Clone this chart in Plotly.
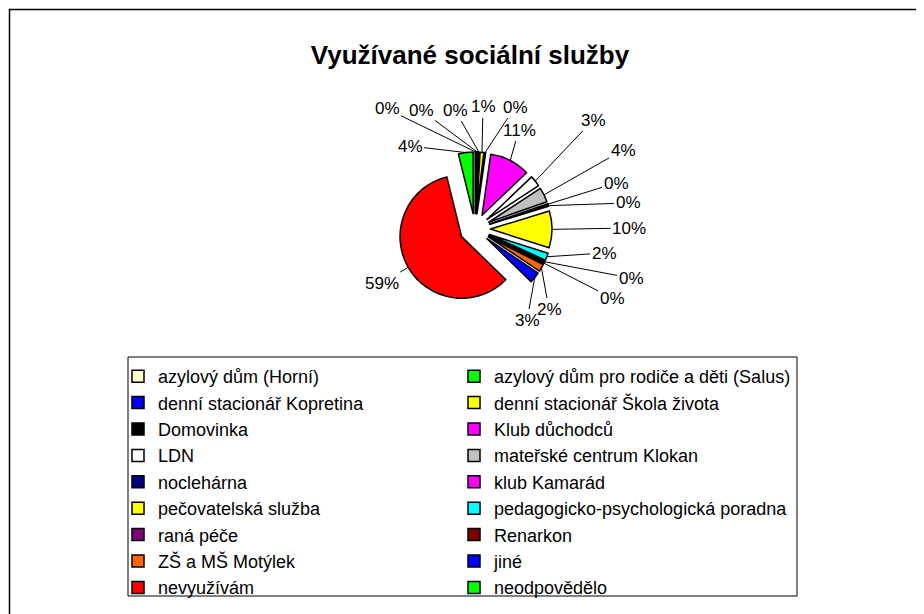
import math
import plotly.graph_objects as go

W, H = 924, 614

# sociální služby - počty odpovědí
sluzby = [
    "azylový dům (Horní)", "azylový dům pro rodiče a děti (Salus)",
    "denní stacionář Kopretina", "denní stacionář Škola života",
    "Domovinka", "Klub důchodců",
    "LDN", "mateřské centrum Klokan",
    "noclehárna", "klub Kamarád",
    "pečovatelská služba", "pedagogicko-psychologická poradna",
    "raná péče", "Renarkon",
    "ZŠ a MŠ Motýlek", "jiné",
    "nevyužívám", "neodpovědělo",
]
pocty = [1, 1, 1, 3, 1, 33, 9, 12, 1, 1, 30, 6, 1, 1, 6, 9, 183, 12]
barvy = [
    "#FFFFCC", "#00FF00", "#0000FF", "#FFFF00", "#000000", "#FF00FF",
    "#FFFFFF", "#C0C0C0", "#000080", "#FF00FF", "#FFFF00", "#00FFFF",
    "#800080", "#800000", "#FF6600", "#0000FF", "#FF0000", "#00FF00",
]

# kde stoji popisky procent (px), jako v Excelu
popisky_xy = [
    (379, 101), (413, 102), (447, 102), (475, 99), (507, 99), (511, 122),
    (585, 112), (615, 142), (608, 175), (620, 195), (621, 220), (596, 245),
    (623, 270), (604, 290), (541, 301), (519, 312), (374, 275), (402, 138),
]

FONT = "Liberation Sans, Arial, sans-serif"
PULL = 0.25
cx0, cy0, box = 467, 221, 154
dom_x = [(cx0 - box / 2) / W, (cx0 + box / 2) / W]
dom_y = [1 - (cy0 + box / 2) / H, 1 - (cy0 - box / 2) / H]

fig = go.Figure(go.Pie(
    labels=sluzby,
    values=pocty,
    sort=False,
    direction="clockwise",
    rotation=0,
    pull=PULL,
    textinfo="none",
    hoverinfo="label+percent",
    marker=dict(colors=barvy, line=dict(color="black", width=1.5)),
    domain=dict(x=dom_x, y=dom_y),
))

# popisky s vodicimi carami
celkem = sum(pocty)
cx = (dom_x[0] + dom_x[1]) / 2 * W
cy = (1 - (dom_y[0] + dom_y[1]) / 2) * H
R = min((dom_x[1] - dom_x[0]) * W, (dom_y[1] - dom_y[0]) * H) / 2
kum = 0
for v, (lx, ly) in zip(pocty, popisky_xy):
    th = (kum + v / 2) / celkem * 2 * math.pi
    kum += v
    tx = cx + R * math.sin(th)
    ty = cy - R * math.cos(th)
    fig.add_annotation(
        x=tx / W, y=1 - ty / H, xref="paper", yref="paper",
        ax=lx - tx, ay=ly - ty,
        text=f"{round(100 * v / celkem)}%",
        showarrow=True, arrowhead=0, arrowwidth=1, arrowcolor="black",
        font=dict(size=17, color="black", family=FONT),
    )

# ramecek grafu a legendy
fig.add_shape(type="rect", xref="paper", yref="paper",
              x0=1.5 / W, x1=921.5 / W, y0=-0.05, y1=1 - 1.5 / H,
              line=dict(color="black", width=1.5))
fig.add_shape(type="rect", xref="paper", yref="paper",
              x0=120 / W, x1=789 / W, y0=1 - 588 / H, y1=1 - 349 / H,
              line=dict(color="black", width=1))

fig.update_layout(
    width=W, height=H,
    margin=dict(l=0, r=0, t=0, b=0),
    paper_bgcolor="white",
    font=dict(family=FONT, color="black"),
    title=dict(text="<b>Využívané sociální služby</b>", x=0.5, xanchor="center",
               y=1 - 47 / H, yanchor="middle", font=dict(size=26)),
    legend=dict(
        orientation="h", x=110 / W, y=1 - 350 / H, xanchor="left", yanchor="top",
        font=dict(size=18), borderwidth=0, bgcolor="rgba(0,0,0,0)",
        entrywidth=291, entrywidthmode="pixels", traceorder="normal",
    ),
)

fig.write_html("out.html")
